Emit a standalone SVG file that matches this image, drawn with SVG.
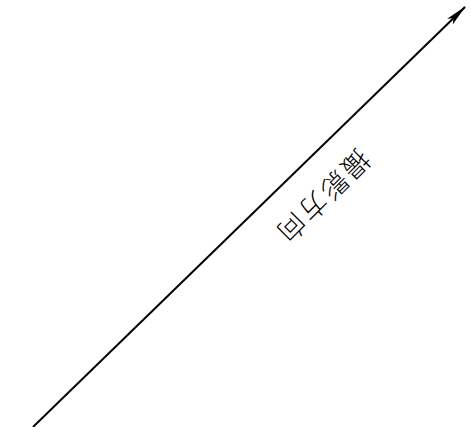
<svg xmlns="http://www.w3.org/2000/svg" width="471" height="427" viewBox="0 0 471 427">
<defs>
<style>
.conn{stroke:#000;stroke-width:2;fill:none}
.lbl{font-family:"Noto Sans CJK JP","Noto Sans CJK SC",sans-serif;font-size:27px;font-weight:300;fill:#000}
</style>
<marker id="ah" viewBox="0 0 22 10" refX="21" refY="5" markerWidth="22" markerHeight="10" orient="auto" markerUnits="userSpaceOnUse">
<path d="M0,1 L22,5 L0,9 L5,5 Z" fill="#000"/>
</marker>
</defs>
<rect width="471" height="427" fill="#fff"/>
<g id="connectors">
<line class="conn" x1="33" y1="427" x2="465" y2="7" marker-end="url(#ah)"/>
</g>
<g id="label">
<text class="lbl" x="0" y="0" text-anchor="middle" dominant-baseline="central" letter-spacing="3" transform="translate(324,198) rotate(135)">撮影方向</text>
</g>
</svg>
